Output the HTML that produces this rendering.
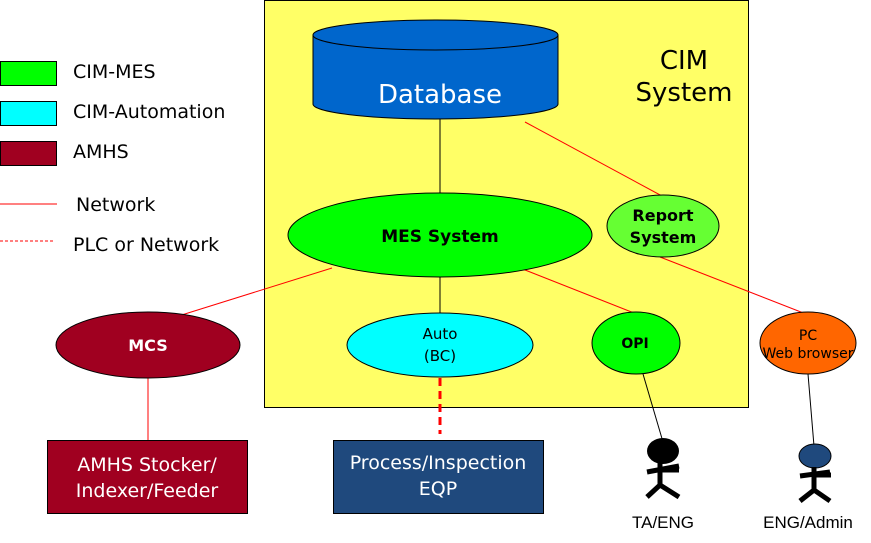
<!DOCTYPE html>
<html><head><meta charset="utf-8"><style>body{margin:0;background:#fff}svg{display:block}</style></head><body>
<svg width="871" height="543" viewBox="0 0 871 543" font-family="Liberation Sans, sans-serif">
<rect x="264.5" y="0.5" width="484" height="407" fill="#ffff66" stroke="#000"/>
<rect x="0.5" y="61.5" width="56" height="24" fill="#00ff00" stroke="#000"/>
<rect x="0.5" y="101.5" width="56" height="24" fill="#00ffff" stroke="#000"/>
<rect x="0.5" y="141.5" width="56" height="24" fill="#a00020" stroke="#000"/>
<g font-size="19" fill="#000" font-family="DejaVu Sans, sans-serif">
<text x="73" y="78">CIM-MES</text>
<text x="73" y="118">CIM-Automation</text>
<text x="73" y="158">AMHS</text>
<text x="76" y="211">Network</text>
<text x="73" y="251">PLC or Network</text>
</g>
<line x1="0" y1="204" x2="57" y2="204" stroke="red"/>
<line x1="0" y1="241" x2="55" y2="241" stroke="red" stroke-dasharray="3,2"/>
<line x1="440" y1="115" x2="440" y2="194" stroke="#000"/>
<line x1="525" y1="122" x2="662" y2="196" stroke="red"/>
<line x1="332" y1="268" x2="172" y2="318" stroke="red"/>
<line x1="440" y1="277" x2="440" y2="314" stroke="#000"/>
<line x1="520" y1="268" x2="634" y2="313" stroke="red"/>
<line x1="660" y1="257" x2="806" y2="314" stroke="red"/>
<line x1="148" y1="378" x2="148" y2="440" stroke="red"/>
<line x1="440" y1="378" x2="440" y2="434" stroke="red" stroke-width="3" stroke-dasharray="8,5"/>
<line x1="643" y1="374" x2="663" y2="442" stroke="#000"/>
<line x1="808" y1="374" x2="814" y2="446" stroke="#000"/>
<path d="M313 35 L313 104 A122.5 15 0 0 0 558 104 L558 35" fill="#0066cc" stroke="#000"/>
<ellipse cx="435.5" cy="35" rx="122.5" ry="15" fill="#0066cc" stroke="#000"/>
<text x="440" y="103" font-size="26" fill="#fff" text-anchor="middle" font-family="DejaVu Sans, sans-serif">Database</text>
<text x="684" y="69" font-size="26" text-anchor="middle" font-family="DejaVu Sans, sans-serif">CIM</text>
<text x="684" y="101" font-size="26" text-anchor="middle" font-family="DejaVu Sans, sans-serif">System</text>
<g font-family="DejaVu Sans, sans-serif">
<ellipse cx="440" cy="235" rx="152" ry="42" fill="#00ff00" stroke="#000"/>
<text x="440" y="242" font-size="17" font-weight="bold" text-anchor="middle">MES System</text>
<ellipse cx="663" cy="226" rx="56" ry="31" fill="#66ff33" stroke="#000"/>
<text x="663" y="221" font-size="16" font-weight="bold" text-anchor="middle">Report</text>
<text x="663" y="243" font-size="16" font-weight="bold" text-anchor="middle">System</text>
<ellipse cx="148" cy="345" rx="92" ry="33" fill="#a00020" stroke="#000"/>
<text x="148" y="351" font-size="16" font-weight="bold" fill="#fff" text-anchor="middle">MCS</text>
<ellipse cx="440" cy="345" rx="93" ry="32" fill="#00ffff" stroke="#000"/>
<text x="440" y="339" font-size="15" text-anchor="middle">Auto</text>
<text x="440" y="361" font-size="15" text-anchor="middle">(BC)</text>
<ellipse cx="636" cy="343" rx="44" ry="31" fill="#00ff00" stroke="#000"/>
<text x="635" y="348" font-size="14" font-weight="bold" text-anchor="middle">OPI</text>
<ellipse cx="808" cy="343" rx="48" ry="31" fill="#ff6600" stroke="#000"/>
<text x="808" y="340" font-size="14" text-anchor="middle">PC</text>
<text x="808" y="358" font-size="14" text-anchor="middle">Web browser</text>
<rect x="47.5" y="440.5" width="200" height="73" fill="#a00020" stroke="#000"/>
<text x="147" y="471" font-size="19" fill="#fff" text-anchor="middle">AMHS Stocker/</text>
<text x="147" y="497" font-size="19" fill="#fff" text-anchor="middle">Indexer/Feeder</text>
<rect x="333.5" y="440.5" width="210" height="73" fill="#1f497d" stroke="#000"/>
<text x="438" y="469" font-size="19" fill="#fff" text-anchor="middle">Process/Inspection</text>
<text x="438" y="495" font-size="19" fill="#fff" text-anchor="middle">EQP</text>
</g>
<ellipse cx="663" cy="451" rx="16" ry="13" fill="#000"/>
<g stroke="#000" stroke-width="5" fill="none">
<line x1="660" y1="462" x2="660" y2="485"/><line x1="647" y1="472" x2="679" y2="466"/><line x1="660" y1="470" x2="679" y2="470"/>
<polyline points="647,497 660,485 679,497"/>
</g>
<ellipse cx="815" cy="456" rx="16" ry="12" fill="#1f497d" stroke="#000"/>
<g stroke="#000" stroke-width="5" fill="none">
<line x1="814" y1="467" x2="814" y2="490"/><line x1="800" y1="476" x2="830" y2="472"/><line x1="814" y1="475" x2="831" y2="475"/>
<polyline points="800,501 814,490 830,501"/>
</g>
<text x="663" y="528" font-size="17" text-anchor="middle">TA/ENG</text>
<text x="808" y="528" font-size="17" text-anchor="middle">ENG/Admin</text>
</svg>
</body></html>
